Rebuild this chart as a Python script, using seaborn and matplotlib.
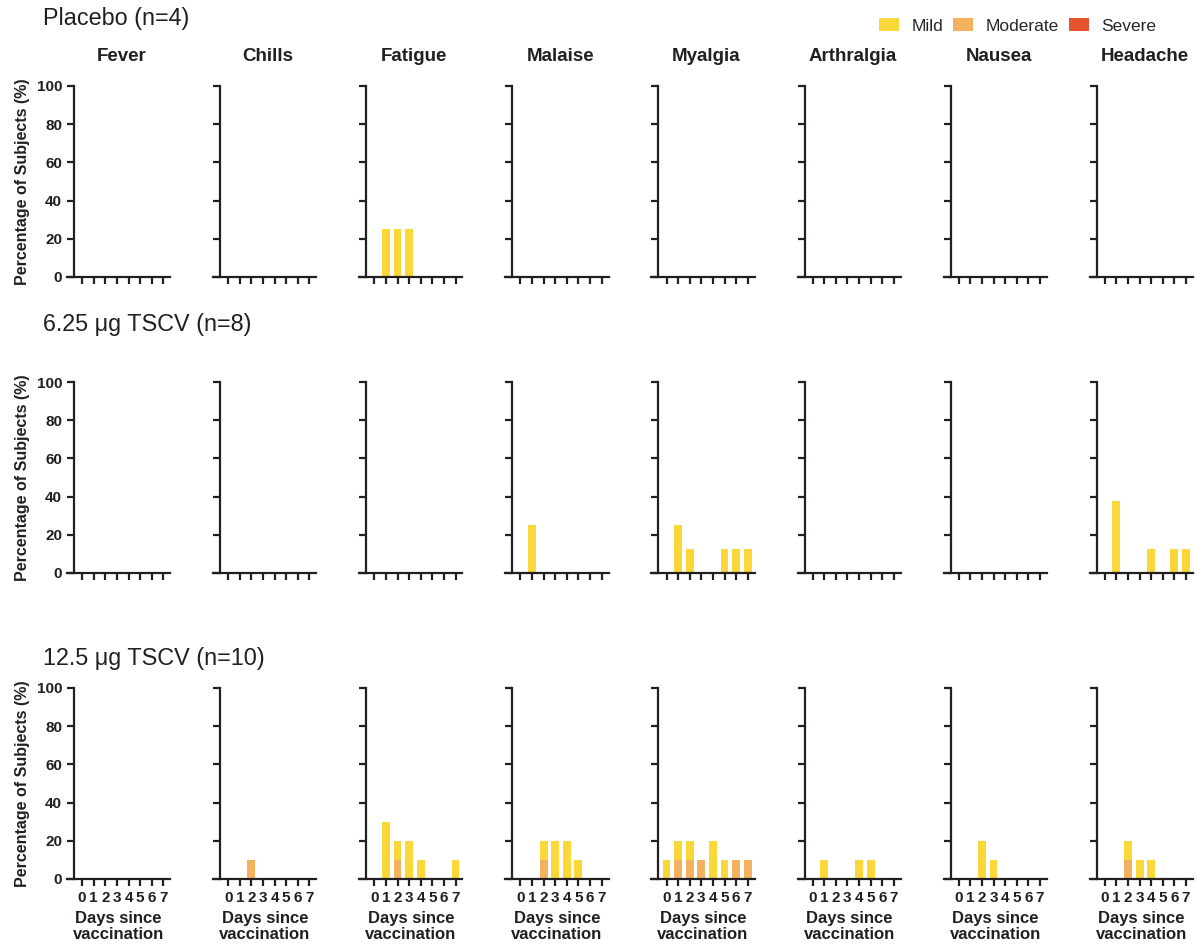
import numpy as np
import pandas as pd
import seaborn as sns
import matplotlib.pyplot as plt
from matplotlib.patches import Patch

###########################################################################
# data (percentage of subjects per day)

days = [0, 1, 2, 3, 4, 5, 6, 7]
symptoms = ["Fever", "Chills", "Fatigue", "Malaise", "Myalgia", "Arthralgia", "Nausea", "Headache"]
groups = ["Placebo (n=4)", "6.25 \u03bcg TSCV (n=8)", "12.5 \u03bcg TSCV (n=10)"]
severities = ["Mild", "Moderate", "Severe"]

# only non-zero symptoms are listed, everything else is 0
placebo_mild = {"Fatigue": [0, 25, 25, 25, 0, 0, 0, 0]}
placebo_moderate = {}

low_dose_mild = {
    "Malaise": [0, 25, 0, 0, 0, 0, 0, 0],
    "Myalgia": [0, 25, 12.5, 0, 0, 12.5, 12.5, 12.5],
    "Headache": [0, 37.5, 0, 0, 12.5, 0, 12.5, 12.5],
}
low_dose_moderate = {}

high_dose_mild = {
    "Fatigue": [0, 30, 10, 20, 10, 0, 0, 10],
    "Malaise": [0, 0, 10, 20, 20, 10, 0, 0],
    "Myalgia": [10, 10, 10, 0, 20, 10, 0, 0],
    "Arthralgia": [0, 10, 0, 0, 10, 10, 0, 0],
    "Nausea": [0, 0, 20, 10, 0, 0, 0, 0],
    "Headache": [0, 0, 10, 10, 10, 0, 0, 0],
}
high_dose_moderate = {
    "Chills": [0, 0, 10, 0, 0, 0, 0, 0],
    "Fatigue": [0, 0, 10, 0, 0, 0, 0, 0],
    "Malaise": [0, 0, 10, 0, 0, 0, 0, 0],
    "Myalgia": [0, 10, 10, 10, 0, 0, 10, 10],
    "Headache": [0, 0, 10, 0, 0, 0, 0, 0],
}

colors = {"Mild": "#FAD83A", "Moderate": "#F4B25E", "Severe": "#E5532F"}
###########################################################################

mild_sets = [placebo_mild, low_dose_mild, high_dose_mild]
moderate_sets = [placebo_moderate, low_dose_moderate, high_dose_moderate]

rows = []
for g, mild, moderate in zip(groups, mild_sets, moderate_sets):
    for s in symptoms:
        m = mild.get(s, [0] * 8)
        md = moderate.get(s, [0] * 8)
        for d, a, b in zip(days, m, md):
            rows.append({"group": g, "symptom": s, "day": d, "mild": a, "moderate": b, "total": a + b})
df = pd.DataFrame(rows)

sns.set_style("ticks")
plt.rcParams["font.family"] = ["Liberation Sans", "DejaVu Sans"]
ink = "#231F20"

W, H = 1204, 948
fig = plt.figure(figsize=(W / 100, H / 100), dpi=100)

unit = 11.6          # px per day
col_step = 146.1
row_tops = [86, 382, 688]
ax_h = 191
ax_w = 8.9 * unit

for r, g in enumerate(groups):
    for c, s in enumerate(symptoms):
        yaxis_px = 74 + c * col_step
        left_px = yaxis_px - 0.6 * unit
        ax = fig.add_axes([left_px / W, 1 - (row_tops[r] + ax_h) / H, ax_w / W, ax_h / H])
        sub = df[(df.group == g) & (df.symptom == s)]
        # stacked: total in mild colour, moderate part laid over it from 0
        sns.barplot(data=sub, x="day", y="total", order=days, color=colors["Mild"],
                    saturation=1, width=0.68, errorbar=None, linewidth=0, ax=ax)
        sns.barplot(data=sub, x="day", y="moderate", order=days, color=colors["Moderate"],
                    saturation=1, width=0.68, errorbar=None, linewidth=0, ax=ax)
        ax.set_xlim(-1.3, 7.6)
        ax.set_ylim(0, 100)
        ax.set_yticks([0, 20, 40, 60, 80, 100])
        sns.despine(ax=ax)
        ax.spines["left"].set_position(("data", -0.7))
        for sp in ["left", "bottom"]:
            ax.spines[sp].set_linewidth(1.6)
            ax.spines[sp].set_color(ink)
        ax.tick_params(axis="both", length=5, width=1.6, color=ink, labelcolor=ink)
        ax.tick_params(axis="x", pad=4)
        ax.set_xlabel("")
        ax.set_ylabel("")
        if c == 0:
            ax.set_yticklabels([str(v) for v in [0, 20, 40, 60, 80, 100]],
                               fontsize=11, fontweight="bold")
        else:
            ax.set_yticklabels([])
        if r == 2:
            ax.set_xticklabels([str(d) for d in days], fontsize=11, fontweight="bold")
            ax.set_xlabel("Days since\nvaccination", fontsize=12, fontweight="bold",
                          labelpad=4, color=ink, linespacing=1.1)
        else:
            ax.set_xticklabels([])
        if r == 0:
            fig.text((yaxis_px + 48) / W, 1 - 61 / H, s, ha="center", va="baseline",
                     fontsize=13.5, fontweight="bold", color=ink)
    fig.text(23 / W, 1 - (row_tops[r] + ax_h / 2) / H, "Percentage of Subjects (%)",
             rotation=90, ha="center", va="center", fontsize=11.5, fontweight="bold", color=ink)

row_title_y = [18, 325, 659]
for g, y in zip(groups, row_title_y):
    fig.text(43 / W, 1 - y / H, g, ha="left", va="center", fontsize=16.8, color=ink)

handles = [Patch(facecolor=colors[k], edgecolor="none") for k in severities]
fig.legend(handles, severities, loc="center right", bbox_to_anchor=(1165 / W, 1 - 26 / H),
           ncol=3, frameon=False, fontsize=12.5, borderpad=0, handlelength=1.15,
           handleheight=0.8, handletextpad=0.7, columnspacing=0.6)

plt.savefig("out.png", dpi=100)
plt.close()
